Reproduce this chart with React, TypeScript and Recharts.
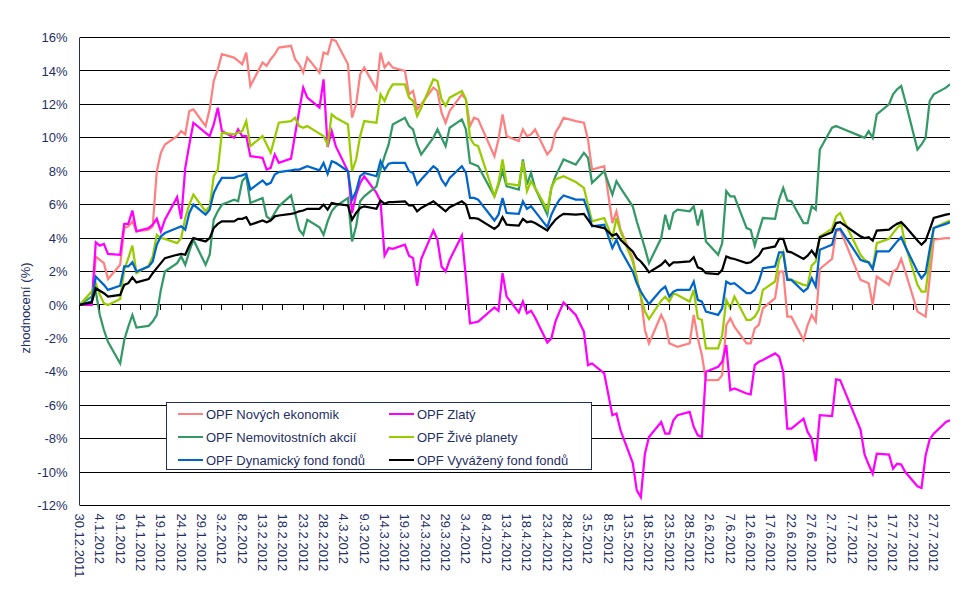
import { LineChart, Line, XAxis, YAxis, CartesianGrid, Legend } from 'recharts'

// trading days, counted in calendar days from 30.12.2011
const days = [
  0,
  3, 4, 5, 6, 7,
  10, 11, 12, 13, 14,
  17, 18, 19, 20, 21,
  24, 25, 26, 27, 28,
  31, 32, 33, 34, 35,
  38, 39, 40, 41, 42,
  45, 46, 47, 48, 49,
  52, 53, 54, 55, 56,
  59, 60, 61, 62, 63,
  66, 67, 68, 69, 70,
  73, 74, 75, 76, 77,
  80, 81, 82, 83, 84,
  87, 88, 89, 90, 91,
  94, 95, 96, 97, 98,
  102, 103, 104, 105,
  108, 109, 110, 111, 112,
  115, 116, 117, 118, 119,
  122, 124, 125, 126,
  129, 131, 132, 133,
  136, 137, 138, 139, 140,
  143, 144, 145, 146, 147,
  150, 151, 152, 153, 154,
  157, 158, 159, 160, 161,
  164, 165, 166, 167, 168,
  171, 172, 173, 174, 175,
  178, 179, 180, 181, 182,
  185, 186, 187,
  192, 193, 194, 195, 196,
  199, 200, 201, 202, 203,
  206, 207, 208, 209, 210,
  213, 214,
]

const novych = [
  0,
  0, 2.9, 2.7, 2.5, 1.55,
  2.4, 4.6, 4.7, 5.0, 4.4,
  4.5, 4.7, 8.0, 9.1, 9.6,
  10.1, 10.4, 10.2, 11.6, 11.7,
  10.7, 11.7, 13.4, 14.1, 15.0,
  14.8, 14.6, 14.4, 15.1, 13.1,
  14.5, 14.3, 14.7, 15.0, 15.4,
  15.5, 14.7, 14.4, 13.9, 14.8,
  13.9, 15.1, 15.0, 15.9, 15.8,
  14.4, 11.2, 12.0, 13.8, 14.2,
  12.9, 15.1, 14.2, 14.5, 14.2,
  14.0, 12.6, 12.8, 11.7, 12.0,
  13.0, 12.8, 11.5, 10.9, 11.6,
  12.6, 12.3, 10.7, 11.2, 11.1,
  8.9, 9.9, 11.4, 10.1,
  9.8, 10.5, 10.1, 10.2, 10.5,
  9.0, 9.3, 10.3, 10.7, 11.2,
  11.0, 10.9, 9.9, 8.1,
  8.3, 4.9, 5.6, 4.5,
  2.8, 1.6, 0.5, -1.5, -2.3,
  -0.6, -1.1, -2.3, -2.4, -2.5,
  -2.3, -0.6, -2.0, -3.0, -4.5,
  -4.5, -4.2, -1.2, -0.8, -1.3,
  -2.3, -2.3, -1.4, -1.2, -0.2,
  0.4, 2.0, 2.0, -0.7, -0.7,
  -2.1, -1.2, -0.6, -1.0, 2.15,
  2.75, 4.4, 4.5,
  1.5, 1.4, 1.3, 0.0, 1.7,
  1.2, 2.0, 2.15, 2.75, 2.0,
  -0.4, -0.55, -0.7, 1.6, 3.9,
  4.0, 4.0,
]

const zlaty = [
  0,
  0, 3.75, 3.55, 3.65, 3.05,
  3.0, 4.85, 4.85, 5.65, 4.4,
  4.6, 4.8, 5.15, 4.4, 5.1,
  6.45, 5.15, 8.2, 9.6, 10.9,
  10.3, 10.1, 10.8, 11.8, 10.4,
  10.0, 10.5, 10.1, 10.1, 8.9,
  8.8, 8.1, 8.2, 9.0, 8.5,
  8.75, 10.2, 11.6, 13.0, 12.4,
  11.8, 13.5, 9.45, 10.4, 9.5,
  8.0, 5.5, 6.6, 7.3, 7.7,
  6.7, 6.2, 2.95, 3.4, 3.35,
  3.6, 2.95, 2.8, 1.15, 2.75,
  4.45, 3.9, 2.3, 2.0, 2.7,
  4.15, 1.6, -1.1, -1.05, -1.0,
  -0.15, -0.35, 1.9, 0.5,
  -0.45, 0.2, -0.5, -0.35, -0.75,
  -2.25, -2.0, -1.0, -0.4, 0.15,
  -0.6, -1.6, -3.6, -3.5,
  -4.1, -6.6, -6.5, -7.5,
  -9.45, -11.1, -11.5, -8.9, -7.9,
  -7.0, -7.7, -7.7, -6.9, -6.6,
  -6.4, -7.3, -7.8, -7.9, -4.0,
  -3.7, -3.4, -2.4, -5.1, -5.0,
  -5.3, -5.35, -3.6, -3.4, -3.3,
  -2.9, -3.1, -4.0, -7.4, -7.4,
  -6.8, -7.6, -8.0, -9.35, -6.6,
  -6.65, -4.45, -4.5,
  -7.45, -8.95, -9.55, -10.1, -8.9,
  -8.95, -9.8, -9.5, -9.55, -10.0,
  -10.85, -10.95, -9.0, -8.05, -7.7,
  -7.0, -6.9,
]

const nemovitostni = [
  0,
  0.5, 0.8, -0.6, -1.5, -2.2,
  -3.5, -2.1, -1.3, -0.6, -1.35,
  -1.25, -1.0, -0.6, 0.9, 2.0,
  2.5, 2.9, 2.4, 3.2, 3.9,
  2.4, 3.0, 5.1, 5.6, 6.0,
  6.3, 6.2, 7.4, 7.7, 6.1,
  6.4, 5.3, 5.1, 5.5, 5.9,
  6.55, 5.5, 4.5, 4.2, 5.1,
  4.65, 4.2, 5.0, 5.6, 5.9,
  6.4, 3.8, 4.7, 6.2, 6.5,
  7.1, 8.1, 8.9, 9.6, 10.8,
  11.2, 10.7, 10.5, 9.6, 9.0,
  10.0, 10.5, 10.0, 9.5, 10.6,
  11.1, 10.5, 8.5, 8.4, 8.3,
  6.5, 7.2, 8.0, 7.1,
  6.9, 8.7, 7.2, 7.9, 7.0,
  5.4, 7.0, 7.7, 8.2, 8.7,
  8.4, 9.1, 8.8, 7.3,
  8.0, 6.6, 7.4, 7.0,
  5.9, 5.0, 4.2, 3.4, 2.5,
  4.0, 5.4, 4.5, 5.5, 5.7,
  5.6, 5.9, 4.75, 5.7, 3.8,
  3.0, 3.7, 6.8, 6.5, 6.5,
  4.6, 4.5, 3.55, 4.4, 5.2,
  5.15, 6.3, 7.0, 6.25, 6.2,
  4.9, 4.9, 5.9, 5.7, 9.3,
  10.6, 10.7, 10.6,
  10.1, 10.0, 10.4, 10.0, 11.4,
  12.0, 12.6, 12.9, 13.1, 12.2,
  9.3, 9.6, 10.0, 12.2, 12.6,
  13.0, 13.2,
]

const zivePlanety = [
  0,
  0.8, 1.3, 0.6, 0.1, 0.0,
  0.35, 2.1, 2.8, 3.55, 1.9,
  2.35, 2.9, 4.2, 4.0, 3.95,
  3.7, 4.0, 5.2, 6.0, 6.6,
  5.6, 5.9, 7.7, 8.1, 10.3,
  10.2, 10.3, 10.4, 11.0, 9.5,
  10.1, 9.6, 9.1, 10.0, 10.9,
  11.0, 11.2, 10.7, 10.6, 10.7,
  10.25, 10.1, 9.6, 11.4, 11.2,
  10.8, 8.0, 8.7, 10.1, 11.0,
  10.9, 12.6, 12.2, 12.8, 13.2,
  13.2, 12.4, 12.2, 11.3, 11.8,
  13.5, 13.4, 12.3, 11.9, 12.4,
  12.8, 12.3, 10.0, 9.6, 9.5,
  6.5, 7.3, 8.7, 7.25,
  7.15, 8.6, 6.8, 7.4, 7.0,
  5.7, 7.0, 7.5, 7.6, 7.7,
  7.35, 7.0, 6.0, 5.0,
  5.2, 4.0, 5.2, 4.4,
  2.6, 1.6, 0.5, -0.4, -0.85,
  0.25, 0.5, 0.2, 0.7, 0.6,
  0.2, 0.9, -0.8, -0.9, -2.6,
  -2.6, -1.8, 0.3, -0.2, 0.5,
  -0.9, -0.9, -0.7, -0.3, 0.9,
  1.4, 2.7, 3.15, 1.6, 1.5,
  1.2, 1.15, 2.35, 2.6, 4.1,
  4.55, 5.3, 5.5,
  3.0, 2.7, 2.55, 2.2, 3.7,
  3.95, 4.3, 4.6, 4.85, 3.6,
  1.2, 0.8, 0.8, 2.7, 4.6,
  4.95, 5.05,
]

const dynamicky = [
  0,
  0.2, 1.7, 1.45, 1.2, 0.9,
  1.15, 2.3, 2.3, 2.55, 2.0,
  2.3, 2.6, 3.6, 4.1, 4.3,
  4.6, 4.7, 4.5, 5.5, 6.0,
  5.4, 5.7, 6.7, 7.2, 7.6,
  7.6, 7.7, 7.75, 7.85, 6.9,
  7.45, 7.2, 7.3, 7.8, 7.95,
  8.05, 8.1, 8.1, 8.2, 8.3,
  8.05, 8.5, 7.85, 8.6, 8.5,
  8.0, 6.3, 6.8, 7.7, 7.9,
  7.7, 8.6, 8.1, 8.45, 8.5,
  8.5, 8.0, 7.9, 7.2, 7.5,
  8.3, 8.1, 7.5, 7.15, 7.6,
  8.3, 7.9, 6.4, 6.4, 6.3,
  5.05, 5.4, 6.4, 5.5,
  5.45, 6.2, 5.75, 5.9, 5.6,
  4.65, 5.4, 5.9, 6.3, 6.55,
  6.3, 6.3, 5.6, 4.7,
  4.8, 3.4, 3.9, 3.3,
  2.0, 1.3, 0.8, 0.4, 0.05,
  0.9, 1.1, 0.5, 0.8, 0.9,
  0.9, 1.4, 0.3, 0.2, -0.4,
  -0.6, -0.2, 1.4, 1.25, 1.3,
  0.7, 0.7, 0.9, 1.4, 2.2,
  2.3, 3.15, 3.15, 1.5, 1.5,
  0.8, 1.0, 1.6, 1.1, 3.3,
  3.6, 4.5, 4.55,
  2.7, 2.6, 2.55, 2.15, 3.2,
  3.2, 3.5, 3.8, 4.05, 3.5,
  2.0, 1.6, 1.9, 3.3, 4.6,
  4.85, 4.95,
]

const vyvazeny = [
  0,
  0.15, 1.0, 0.85, 0.7, 0.5,
  0.6, 1.2, 1.3, 1.65, 1.35,
  1.55, 1.9, 2.2, 2.5, 2.8,
  3.0, 3.05, 3.0, 3.55, 4.0,
  3.8, 4.0, 4.6, 4.85, 5.0,
  5.0, 5.15, 5.15, 5.25, 4.8,
  5.05, 4.95, 5.05, 5.3, 5.35,
  5.45, 5.5, 5.6, 5.65, 5.75,
  5.75, 6.0, 5.7, 6.1, 6.05,
  5.95, 5.1, 5.5, 5.8, 5.9,
  5.75, 6.25, 6.05, 6.15, 6.15,
  6.2, 5.95, 5.95, 5.6, 5.8,
  6.2, 6.0, 5.8, 5.6, 5.85,
  6.2, 6.0, 5.2, 5.2, 5.15,
  4.55, 4.75, 5.25, 4.8,
  4.75, 5.15, 4.95, 5.0, 4.9,
  4.45, 4.8, 5.1, 5.3, 5.45,
  5.4, 5.45, 5.1, 4.75,
  4.6, 4.15, 4.25, 3.9,
  3.2, 2.8, 2.6, 2.3, 1.95,
  2.4, 2.65, 2.35, 2.55, 2.55,
  2.6, 2.85, 2.25, 2.15, 1.9,
  1.85, 2.1, 2.9, 2.8, 2.75,
  2.5, 2.55, 2.75, 2.95, 3.35,
  3.5, 3.95, 3.95, 3.2, 3.15,
  2.75, 2.95, 3.25, 2.9, 4.05,
  4.35, 4.9, 4.95,
  4.1, 4.0, 4.05, 3.85, 4.45,
  4.5, 4.7, 4.85, 4.95, 4.7,
  3.85, 3.6, 3.85, 4.5, 5.2,
  5.4, 5.45,
]

const yTicks = [-12, -10, -8, -6, -4, -2, 0, 2, 4, 6, 8, 10, 12, 14, 16]
const xTicks = Array.from({ length: 43 }, (_, i) => i * 5)

const series = [
  { key: 'novych', name: 'OPF Nových ekonomik', color: '#FF8080', values: novych },
  { key: 'zlaty', name: 'OPF Zlatý', color: '#FF00FF', values: zlaty },
  { key: 'nemovitostni', name: 'OPF Nemovitostních akcií', color: '#339966', values: nemovitostni },
  { key: 'zive', name: 'OPF Živé planety', color: '#99CC00', values: zivePlanety },
  { key: 'dynamicky', name: 'OPF Dynamický fond fondů', color: '#0066CC', values: dynamicky },
  { key: 'vyvazeny', name: 'OPF Vyvážený fond fondů', color: '#000000', values: vyvazeny },
]

const rows = days.map((d, i) => {
  const row: Record<string, number> = { d }
  series.forEach((s) => { row[s.key] = s.values[i] })
  return row
})

const NAVY = '#1f2f66'
const FONT = '"Liberation Sans", Arial, sans-serif'
const W = 962
const H = 596
const PLOT_TOP = 37.5
const PLOT_BOTTOM = 505.5
const ZERO_Y = PLOT_TOP + ((PLOT_BOTTOM - PLOT_TOP) * 16) / 28

const START = Date.UTC(2011, 11, 30)
function dayLabel(d: number) {
  const t = new Date(START + d * 86400000)
  return `${t.getUTCDate()}.${t.getUTCMonth() + 1}.${t.getUTCFullYear()}`
}

function DateTick(props: any) {
  const { x, payload } = props
  return (
    <g>
      <line x1={x} x2={x} y1={ZERO_Y} y2={ZERO_Y + 5} stroke="#000" shapeRendering="crispEdges" />
      <text
        transform={`translate(${x},${PLOT_BOTTOM + 8}) rotate(90)`}
        dy="0.35em"
        textAnchor="start"
        fontSize={13}
        fill={NAVY}
        fontFamily={FONT}
      >
        {dayLabel(payload.value)}
      </text>
    </g>
  )
}

function LegendBox() {
  return (
    <div
      style={{
        position: 'relative',
        width: 426,
        height: 68,
        boxSizing: 'border-box',
        border: `1px solid ${NAVY}`,
        background: '#fff',
        fontFamily: FONT,
        fontSize: 13,
        color: NAVY,
      }}
    >
      {series.map((s, i) => (
        <div
          key={s.key}
          style={{
            position: 'absolute',
            left: 11 + (i % 2) * 211,
            top: 2 + Math.floor(i / 2) * 23,
            height: 18,
            display: 'flex',
            alignItems: 'center',
            whiteSpace: 'nowrap',
          }}
        >
          <span style={{ display: 'inline-block', width: 25, height: 2.5, background: s.color, marginRight: 3 }} />
          {s.name}
        </div>
      ))}
    </div>
  )
}

export default function App() {
  return (
    <div style={{ position: 'absolute', left: 0, top: 0, width: W, height: H, background: '#fff' }}>
      <LineChart
        width={W}
        height={H}
        data={rows}
        margin={{ top: PLOT_TOP, right: 12, bottom: 4.5, left: 0 }}
      >
        <CartesianGrid vertical={false} stroke="#000" strokeWidth={1} shapeRendering="crispEdges" />
        <XAxis
          type="number"
          dataKey="d"
          domain={[0, 214]}
          ticks={xTicks}
          interval={0}
          height={86}
          axisLine={false}
          tickLine={false}
          tick={DateTick}
          allowDataOverflow
        />
        <YAxis
          domain={[-12, 16]}
          ticks={yTicks}
          interval={0}
          width={79.5}
          axisLine={{ stroke: NAVY }}
          tickLine={false}
          tickSize={0}
          tickMargin={12}
          tickFormatter={(v: number) => `${v}%`}
          tick={{ fill: NAVY, fontSize: 13, fontFamily: FONT }}
          label={{
            content: () => (
              <text
                x={30}
                y={308}
                transform="rotate(-90 30 308)"
                textAnchor="middle"
                fontSize={13}
                fill={NAVY}
                fontFamily={FONT}
              >
                zhodnocení (%)
              </text>
            ),
          }}
        />
        <Legend
          layout="horizontal"
          verticalAlign="middle"
          align="center"
          content={() => <LegendBox />}
          wrapperStyle={{ position: 'absolute', left: 166, top: 402, width: 426, height: 68 }}
        />
        {series.map((s) => (
          <Line
            key={s.key}
            type="linear"
            dataKey={s.key}
            name={s.name}
            stroke={s.color}
            strokeWidth={2.25}
            dot={false}
            activeDot={false}
            isAnimationActive={false}
          />
        ))}
      </LineChart>
    </div>
  )
}
